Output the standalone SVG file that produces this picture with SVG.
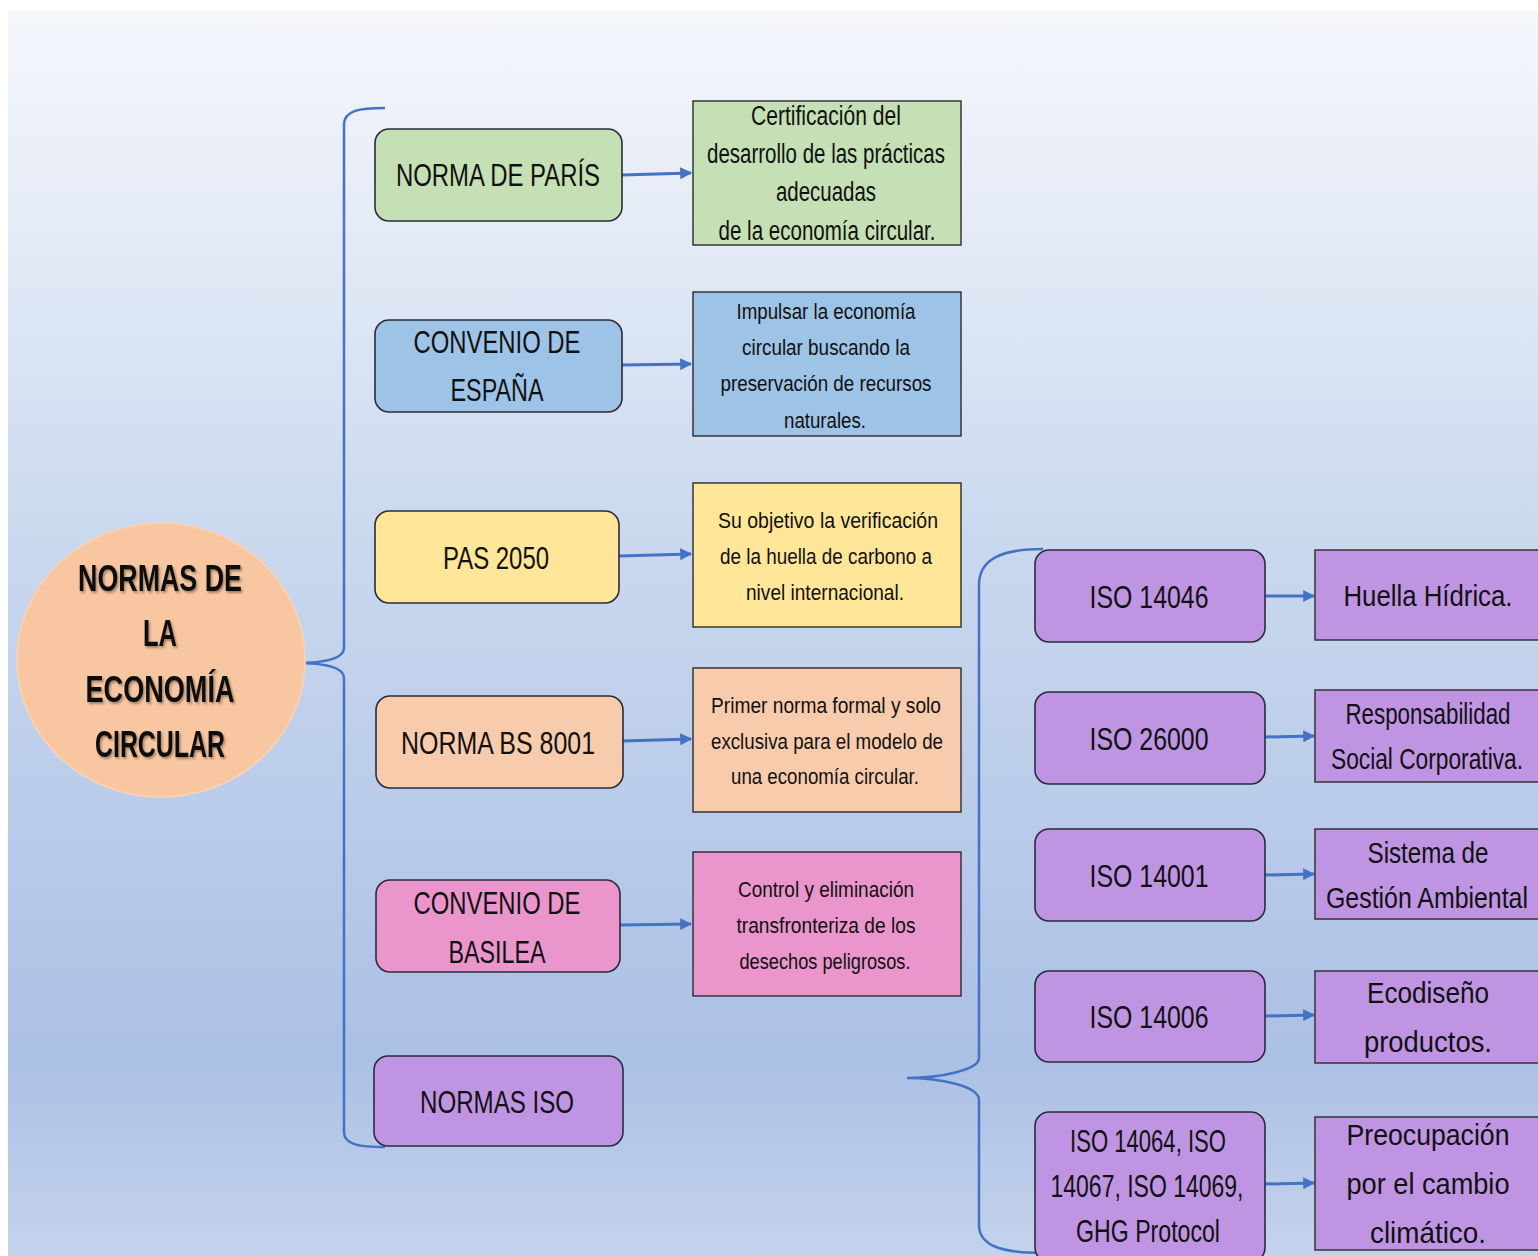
<svg xmlns="http://www.w3.org/2000/svg" width="1538" height="1256" viewBox="0 0 1538 1256">
<defs>
<linearGradient id="bg" x1="0" y1="11" x2="0" y2="1256" gradientUnits="userSpaceOnUse">
<stop offset="0" stop-color="#f4f6fb"/>
<stop offset="0.15" stop-color="#e7edf7"/>
<stop offset="0.4" stop-color="#ccdaef"/>
<stop offset="0.84" stop-color="#abc0e5"/>
<stop offset="1" stop-color="#c4d3ec"/>
</linearGradient>
<marker id="ah" viewBox="0 0 10 10" refX="9" refY="5" markerWidth="4" markerHeight="4" orient="auto" markerUnits="strokeWidth">
<path d="M0,0 L10,5 L0,10 z" fill="#4472c4"/>
</marker>
<filter id="ts" x="-10%" y="-10%" width="120%" height="130%">
<feDropShadow dx="1.5" dy="2" stdDeviation="1" flood-color="#000" flood-opacity="0.35"/>
</filter>
</defs>
<style>
text{font-family:"Liberation Sans Narrow","Liberation Sans",Arial,sans-serif;fill:#111;text-anchor:middle}
.lbl{font-size:32px}
.d{font-size:22px}
.g{font-size:27px}
.iso{font-size:32px}
.r{font-size:30px}
.c{font-size:36px;font-weight:bold}
.rb{stroke:#2b2b3a;stroke-width:1.6}
.sb{stroke:#2b2b2b;stroke-width:1.4}
.con{stroke:#4472c4;stroke-width:3;fill:none}
.br{stroke:#4472c4;stroke-width:2.5;fill:none}
</style>
<rect x="0" y="0" width="1538" height="1256" fill="#ffffff"/>
<rect x="8" y="11" width="1530" height="1245" fill="url(#bg)"/>

<g id="connectors">
<path class="br" d="M385,108 C360,108 344,110 344,125 L344,648 C344,660 320,663 295,663 C320,663 344,666 344,678 L344,1132 C344,1145 360,1147 385,1147"/>
<path class="br" d="M1043,549 C1000,549 979,560 979,585 L979,1058 C979,1070 940,1078 907,1078 C940,1078 979,1086 979,1100 L979,1225 C979,1245 1000,1253 1043,1253"/>
<line class="con" x1="622" y1="175" x2="691" y2="173" marker-end="url(#ah)"/>
<line class="con" x1="622" y1="365" x2="691" y2="364" marker-end="url(#ah)"/>
<line class="con" x1="619" y1="556" x2="691" y2="554" marker-end="url(#ah)"/>
<line class="con" x1="623" y1="741" x2="691" y2="739" marker-end="url(#ah)"/>
<line class="con" x1="620" y1="925" x2="691" y2="924" marker-end="url(#ah)"/>
<line class="con" x1="1265" y1="596" x2="1314" y2="596" marker-end="url(#ah)"/>
<line class="con" x1="1265" y1="737" x2="1314" y2="736" marker-end="url(#ah)"/>
<line class="con" x1="1265" y1="875" x2="1314" y2="874" marker-end="url(#ah)"/>
<line class="con" x1="1265" y1="1016" x2="1314" y2="1015" marker-end="url(#ah)"/>
<line class="con" x1="1265" y1="1184" x2="1314" y2="1183" marker-end="url(#ah)"/>
</g>

<g id="center">
<ellipse cx="161" cy="660" rx="144" ry="137" fill="#f8c6a0" stroke="#f5d2b8" stroke-width="2"/>
<g filter="url(#ts)">
<text class="c" x="160" y="591" textLength="164" lengthAdjust="spacingAndGlyphs">NORMAS DE</text>
<text class="c" x="160" y="646" textLength="34" lengthAdjust="spacingAndGlyphs">LA</text>
<text class="c" x="160" y="702" textLength="149" lengthAdjust="spacingAndGlyphs">ECONOMÍA</text>
<text class="c" x="160" y="757" textLength="130" lengthAdjust="spacingAndGlyphs">CIRCULAR</text>
</g>
</g>

<g id="n-paris">
<rect class="rb" x="375" y="129" width="247" height="92" rx="14" fill="#c5e0b4"/>
<text class="lbl" x="498" y="186" textLength="204" lengthAdjust="spacingAndGlyphs">NORMA DE PARÍS</text>
</g>
<g id="n-espana">
<rect class="rb" x="375" y="320" width="247" height="92" rx="14" fill="#9dc3e6"/>
<text class="lbl" x="497" y="353" textLength="167" lengthAdjust="spacingAndGlyphs">CONVENIO DE</text>
<text class="lbl" x="497" y="401" textLength="93" lengthAdjust="spacingAndGlyphs">ESPAÑA</text>
</g>
<g id="n-pas">
<rect class="rb" x="375" y="511" width="244" height="92" rx="14" fill="#ffe699"/>
<text class="lbl" x="496" y="569" textLength="106" lengthAdjust="spacingAndGlyphs">PAS 2050</text>
</g>
<g id="n-bs">
<rect class="rb" x="376" y="696" width="247" height="92" rx="14" fill="#f8cbad"/>
<text class="lbl" x="498" y="754" textLength="194" lengthAdjust="spacingAndGlyphs">NORMA BS 8001</text>
</g>
<g id="n-basilea">
<rect class="rb" x="376" y="880" width="244" height="92" rx="14" fill="#ea96cc"/>
<text class="lbl" x="497" y="914" textLength="167" lengthAdjust="spacingAndGlyphs">CONVENIO DE</text>
<text class="lbl" x="497" y="963" textLength="97" lengthAdjust="spacingAndGlyphs">BASILEA</text>
</g>
<g id="n-iso">
<rect class="rb" x="374" y="1056" width="249" height="90" rx="14" fill="#bf95e3"/>
<text class="lbl" x="497" y="1113" textLength="154" lengthAdjust="spacingAndGlyphs">NORMAS ISO</text>
</g>

<g id="d-paris">
<rect class="sb" x="693" y="101" width="268" height="144" fill="#c5e0b4"/>
<text class="g" x="826" y="125" textLength="150" lengthAdjust="spacingAndGlyphs">Certificación del</text>
<text class="g" x="826" y="163" textLength="238" lengthAdjust="spacingAndGlyphs">desarrollo de las prácticas</text>
<text class="g" x="826" y="201" textLength="100" lengthAdjust="spacingAndGlyphs">adecuadas</text>
<text class="g" x="827" y="240" textLength="217" lengthAdjust="spacingAndGlyphs">de la economía circular.</text>
</g>
<g id="d-espana">
<rect class="sb" x="693" y="292" width="268" height="144" fill="#9dc3e6"/>
<text class="d" x="826" y="319" textLength="179" lengthAdjust="spacingAndGlyphs">Impulsar la economía</text>
<text class="d" x="826" y="355" textLength="168" lengthAdjust="spacingAndGlyphs">circular buscando la</text>
<text class="d" x="826" y="391" textLength="211" lengthAdjust="spacingAndGlyphs">preservación de recursos</text>
<text class="d" x="825" y="428" textLength="82" lengthAdjust="spacingAndGlyphs">naturales.</text>
</g>
<g id="d-pas">
<rect class="sb" x="693" y="483" width="268" height="144" fill="#ffe699"/>
<text class="d" x="828" y="528" textLength="220" lengthAdjust="spacingAndGlyphs">Su objetivo la verificación</text>
<text class="d" x="826" y="564" textLength="212" lengthAdjust="spacingAndGlyphs">de la huella de carbono a</text>
<text class="d" x="825" y="600" textLength="158" lengthAdjust="spacingAndGlyphs">nivel internacional.</text>
</g>
<g id="d-bs">
<rect class="sb" x="693" y="668" width="268" height="144" fill="#f8cbad"/>
<text class="d" x="826" y="713" textLength="230" lengthAdjust="spacingAndGlyphs">Primer norma formal y solo</text>
<text class="d" x="827" y="749" textLength="232" lengthAdjust="spacingAndGlyphs">exclusiva para el modelo de</text>
<text class="d" x="825" y="784" textLength="188" lengthAdjust="spacingAndGlyphs">una economía circular.</text>
</g>
<g id="d-basilea">
<rect class="sb" x="693" y="852" width="268" height="144" fill="#ea96cc"/>
<text class="d" x="826" y="897" textLength="176" lengthAdjust="spacingAndGlyphs">Control y eliminación</text>
<text class="d" x="826" y="933" textLength="179" lengthAdjust="spacingAndGlyphs">transfronteriza de los</text>
<text class="d" x="825" y="969" textLength="171" lengthAdjust="spacingAndGlyphs">desechos peligrosos.</text>
</g>

<g id="iso-14046">
<rect class="rb" x="1035" y="550" width="230" height="92" rx="14" fill="#bf95e3"/>
<text class="iso" x="1149" y="608" textLength="119" lengthAdjust="spacingAndGlyphs">ISO 14046</text>
</g>
<g id="iso-26000">
<rect class="rb" x="1035" y="692" width="230" height="92" rx="14" fill="#bf95e3"/>
<text class="iso" x="1149" y="750" textLength="119" lengthAdjust="spacingAndGlyphs">ISO 26000</text>
</g>
<g id="iso-14001">
<rect class="rb" x="1035" y="829" width="230" height="92" rx="14" fill="#bf95e3"/>
<text class="iso" x="1149" y="887" textLength="119" lengthAdjust="spacingAndGlyphs">ISO 14001</text>
</g>
<g id="iso-14006">
<rect class="rb" x="1035" y="971" width="230" height="91" rx="14" fill="#bf95e3"/>
<text class="iso" x="1149" y="1028" textLength="119" lengthAdjust="spacingAndGlyphs">ISO 14006</text>
</g>
<g id="iso-multi">
<rect class="rb" x="1035" y="1112" width="230" height="150" rx="14" fill="#bf95e3"/>
<text class="iso" x="1148" y="1152" textLength="156" lengthAdjust="spacingAndGlyphs">ISO 14064, ISO</text>
<text class="iso" x="1147" y="1197" textLength="193" lengthAdjust="spacingAndGlyphs">14067, ISO 14069,</text>
<text class="iso" x="1148" y="1242" textLength="144" lengthAdjust="spacingAndGlyphs">GHG Protocol</text>
</g>

<g id="r-huella">
<rect class="sb" x="1315" y="550" width="224" height="90" fill="#bf95e3"/>
<text class="r" x="1428" y="606" textLength="169" lengthAdjust="spacingAndGlyphs">Huella Hídrica.</text>
</g>
<g id="r-rsc">
<rect class="sb" x="1315" y="690" width="224" height="92" fill="#bf95e3"/>
<text class="r" x="1428" y="724" textLength="165" lengthAdjust="spacingAndGlyphs">Responsabilidad</text>
<text class="r" x="1427" y="769" textLength="192" lengthAdjust="spacingAndGlyphs">Social Corporativa.</text>
</g>
<g id="r-sga">
<rect class="sb" x="1315" y="829" width="224" height="90" fill="#bf95e3"/>
<text class="r" x="1428" y="863" textLength="121" lengthAdjust="spacingAndGlyphs">Sistema de</text>
<text class="r" x="1427" y="908" textLength="202" lengthAdjust="spacingAndGlyphs">Gestión Ambiental</text>
</g>
<g id="r-eco">
<rect class="sb" x="1315" y="971" width="224" height="92" fill="#bf95e3"/>
<text class="r" x="1428" y="1003" textLength="122" lengthAdjust="spacingAndGlyphs">Ecodiseño</text>
<text class="r" x="1428" y="1052" textLength="128" lengthAdjust="spacingAndGlyphs">productos.</text>
</g>
<g id="r-clima">
<rect class="sb" x="1315" y="1117" width="224" height="133" fill="#bf95e3"/>
<text class="r" x="1428" y="1145" textLength="163" lengthAdjust="spacingAndGlyphs">Preocupación</text>
<text class="r" x="1428" y="1194" textLength="163" lengthAdjust="spacingAndGlyphs">por el cambio</text>
<text class="r" x="1428" y="1243" textLength="116" lengthAdjust="spacingAndGlyphs">climático.</text>
</g>
</svg>
